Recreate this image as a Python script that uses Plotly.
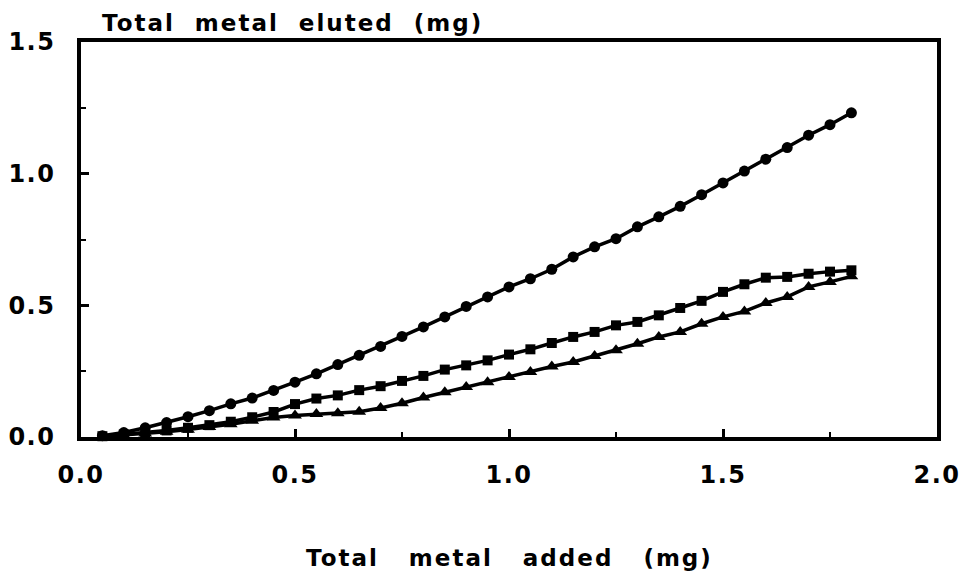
import plotly.graph_objects as go

# Data
metal_added = [0.05, 0.10, 0.15, 0.20, 0.25, 0.30, 0.35, 0.40, 0.45, 0.50,
               0.55, 0.60, 0.65, 0.70, 0.75, 0.80, 0.85, 0.90, 0.95, 1.00,
               1.05, 1.10, 1.15, 1.20, 1.25, 1.30, 1.35, 1.40, 1.45, 1.50,
               1.55, 1.60, 1.65, 1.70, 1.75, 1.80]

eluted_circles = [0.005, 0.017, 0.035, 0.055, 0.077, 0.100, 0.126, 0.148, 0.177, 0.208,
                  0.240, 0.275, 0.310, 0.344, 0.382, 0.418, 0.456, 0.496, 0.532, 0.570,
                  0.601, 0.637, 0.684, 0.722, 0.753, 0.798, 0.836, 0.876, 0.920, 0.965,
                  1.010, 1.055, 1.099, 1.146, 1.186, 1.231]

eluted_squares = [0.003, 0.010, 0.016, 0.025, 0.035, 0.045, 0.058, 0.075, 0.095, 0.125,
                  0.146, 0.158, 0.178, 0.193, 0.213, 0.232, 0.256, 0.272, 0.291, 0.313,
                  0.333, 0.357, 0.380, 0.399, 0.424, 0.437, 0.462, 0.490, 0.517, 0.551,
                  0.580, 0.605, 0.608, 0.620, 0.628, 0.633]

eluted_triangles = [0.002, 0.007, 0.013, 0.020, 0.028, 0.038, 0.048, 0.062, 0.074, 0.082,
                    0.087, 0.090, 0.096, 0.110, 0.128, 0.150, 0.170, 0.190, 0.208, 0.228,
                    0.247, 0.268, 0.285, 0.308, 0.329, 0.354, 0.380, 0.399, 0.430, 0.456,
                    0.477, 0.509, 0.532, 0.570, 0.589, 0.610]

x_ticks = [0.0, 0.5, 1.0, 1.5, 2.0]
x_tick_labels = ["0.0", "0.5", "1.0", "1.5", "2.0"]
y_ticks = [0.0, 0.5, 1.0, 1.5]
y_tick_labels = ["0.0", "0.5", "1.0", "1.5"]

y_title = ("\u00a0" * 2).join(["Total", "metal", "eluted", "(mg)"])
x_title = ("\u00a0" * 3).join(["Total", "metal", "added", "(mg)"])

FONT = "DejaVu Sans"

fig = go.Figure()
series = [
    (eluted_triangles, "triangle-up", 12),
    (eluted_squares, "square", 10),
    (eluted_circles, "circle", 11),
]
for ys, sym, sz in series:
    fig.add_trace(go.Scatter(
        x=metal_added, y=ys, mode="lines+markers",
        line=dict(color="black", width=3.5),
        marker=dict(symbol=sym, size=sz, color="black"),
        showlegend=False, cliponaxis=False,
    ))

axis_common = dict(
    showgrid=False, zeroline=False, automargin=False,
    showline=True, linecolor="black", linewidth=3.5, mirror=True,
    ticks="inside", ticklen=8, tickwidth=3, tickcolor="black",
    tickfont=dict(family=FONT, size=24, color="black", weight="bold"),
)

fig.update_xaxes(
    range=[0, 2.0], tickvals=x_ticks, ticktext=x_tick_labels,
    ticklabelstandoff=13,
    minor=dict(dtick=0.25, ticks="inside", ticklen=5, tickwidth=2, tickcolor="black"),
    **axis_common,
)
fig.update_yaxes(
    range=[0, 1.5], tickvals=y_ticks, ticktext=y_tick_labels,
    ticklabelstandoff=17,
    minor=dict(dtick=0.25, ticks="inside", ticklen=5, tickwidth=2, tickcolor="black"),
    **axis_common,
)

fig.add_annotation(
    text=y_title, xref="paper", yref="paper", x=0.0245, y=1.0,
    xanchor="left", yanchor="bottom", showarrow=False, xshift=24, yshift=4,
    font=dict(family=FONT, size=23, color="black", weight="bold"),
)
fig.add_annotation(
    text=x_title, xref="paper", yref="paper", x=0.5, y=-0.306,
    xanchor="center", yanchor="middle", showarrow=False,
    font=dict(family=FONT, size=23, color="black", weight="bold"),
)

fig.update_layout(
    width=970, height=580,
    margin=dict(l=73, r=41, t=34, b=151),
    plot_bgcolor="white", paper_bgcolor="white",
)

# widen the tracking of the text to match the reference lettering
post = """
var gd = document.getElementById('{plot_id}');
function track(){
  gd.querySelectorAll('.xtick text, .ytick text').forEach(function(t){
    t.style.letterSpacing = '1.5px';
  });
  gd.querySelectorAll('.annotation-text').forEach(function(t){
    t.style.letterSpacing = '2px';
  });
}
track();
gd.on('plotly_afterplot', track);
"""

fig.write_html("out.html", post_script=post)
